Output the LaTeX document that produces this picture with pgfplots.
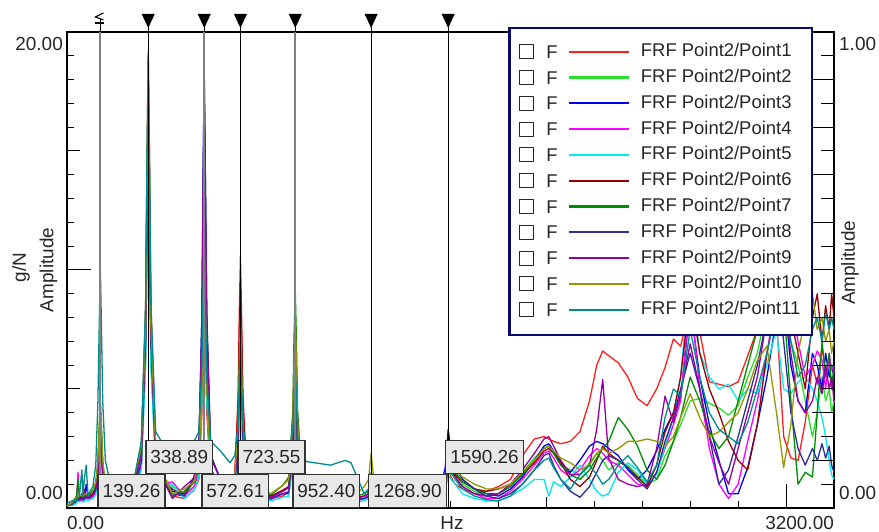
\documentclass[border=0pt]{standalone}
\usepackage{fontspec}
\setmainfont{Liberation Sans}
\usepackage{pgfplots}
\pgfplotsset{compat=1.18}
\usepackage{pgfplotstable}

\definecolor{c1}{RGB}{255,30,30}
\definecolor{c2}{RGB}{40,225,40}
\definecolor{c3}{RGB}{0,0,230}
\definecolor{c4}{RGB}{255,0,255}
\definecolor{c5}{RGB}{0,235,235}
\definecolor{c6}{RGB}{150,0,0}
\definecolor{c7}{RGB}{0,140,0}
\definecolor{c8}{RGB}{45,45,155}
\definecolor{c9}{RGB}{150,0,160}
\definecolor{c10}{RGB}{150,150,0}
\definecolor{c11}{RGB}{0,140,140}
\definecolor{navyb}{RGB}{10,10,110}
\definecolor{boxfill}{RGB}{232,232,232}
\definecolor{mgray}{RGB}{128,128,128}

\pgfplotstableread{
f s1 s2 s3 s4 s5 s6 s7 s8 s9 s10 s11
0 0.1 0.1 0.1 0.1 0.1 0.1 0.1 0.1 0.1 0.1 0.2
20 0.2 0.2 0.15 0.2 0.1 0.2 0.2 0.15 0.2 0.2 0.3
40 0.3 0.5 0.3 0.4 0.2 0.4 0.5 0.3 0.35 0.45 0.3
46 0.4 1.0 0.3 1.5 0.3 0.4 1.2 0.35 0.5 0.5 0.4
52 0.3 0.4 0.3 0.3 0.25 0.45 0.5 0.35 0.4 0.5 0.5
62 0.35 0.4 0.6 0.3 0.3 0.45 0.5 0.4 0.4 0.55 1.6
67 0.3 0.3 0.3 0.3 0.25 0.4 0.45 0.35 0.4 0.5 0.5
72 0.4 0.4 0.3 0.3 0.3 0.45 0.5 0.4 0.8 0.55 1.2
80 0.45 0.5 1.0 0.4 0.35 0.5 0.55 0.45 0.45 0.6 1.8
88 0.4 0.4 0.4 0.4 0.3 0.5 0.5 0.4 0.45 0.6 0.5
96 0.45 0.5 0.5 0.4 0.35 0.55 0.6 0.45 0.5 0.65 0.7
108 0.5 0.6 0.55 0.45 0.4 0.6 0.7 0.55 0.55 0.75 0.9
120 0.7 0.9 0.8 0.65 0.55 0.85 1.0 0.8 0.75 1.1 1.8
129 1.4 2.0 1.8 1.4 1.1 1.6 1.8 1.6 1.4 2.0 4.5
135 2.4 3.6 3.2 2.4 2.0 2.8 3.2 2.8 2.4 3.6 8.0
139.26 3.0 4.5 4.0 3.0 2.5 3.5 4.0 3.5 3.0 4.5 10.0
143 2.4 3.6 3.2 2.4 2.0 2.8 3.2 2.8 2.4 3.6 8.0
149 1.4 2.0 1.8 1.4 1.1 1.6 1.8 1.6 1.4 2.0 4.5
160 0.6 0.8 0.7 0.6 0.5 0.8 0.9 0.7 0.65 1.0 2.0
185 0.4 0.6 0.5 0.4 0.35 0.6 0.7 0.5 0.5 0.8 0.8
230 0.3 0.4 0.35 0.3 0.25 0.45 0.5 0.35 0.4 0.55 0.5
280 0.9 1.1 0.9 0.85 0.75 1.1 1.2 0.95 1.05 1.2 1.2
310 2.3 2.4 1.8 1.7 1.6 2.2 2.6 1.9 2.2 2.6 2.8
328 8.6 8.3 6.8 6.3 5.9 7.2 8.1 7.0 7.4 7.7 8.6
334 15.0 14.5 11.8 11.0 10.2 12.5 14.1 12.2 12.9 13.3 14.8
338.89 19.2 18.5 15.0 14.0 13.0 16.0 18.0 15.5 16.5 17.0 19.0
344 15.0 14.5 11.8 11.0 10.2 12.5 14.1 12.2 12.9 13.3 14.8
350 8.6 8.3 6.8 6.3 5.9 7.2 8.1 7.0 7.4 7.7 8.6
370 2.5 2.4 2.0 1.8 1.7 2.2 2.5 2.0 2.2 2.4 3.2
400 1.2 1.3 1.1 1.0 0.9 1.3 1.4 1.1 1.2 1.4 2.7
440 0.5 0.9 0.6 1.1 1.0 0.7 0.5 0.8 0.4 0.6 2.6
490 0.4 0.6 0.5 0.5 0.4 0.6 0.7 0.5 0.9 0.8 2.6
530 0.75 0.9 1.3 0.9 0.75 1.1 1.1 1.3 1.25 1.1 2.8
550 1.2 1.4 2.4 1.6 1.3 1.8 2.0 2.4 2.3 2.0 3.2
563 4.0 5.0 8.2 5.4 4.5 5.9 5.4 8.1 7.7 5.0 6.0
568 7.0 8.6 14.3 9.4 7.8 10.1 9.4 14.0 13.3 8.6 9.4
572.61 9.0 11.0 18.3 12.0 10.0 13.0 12.0 18.0 17.0 11.0 12.0
577 7.0 8.6 14.3 9.4 7.8 10.1 9.4 14.0 13.3 8.6 9.0
583 4.0 5.0 8.2 5.4 4.5 5.9 5.4 8.1 7.7 5.0 5.5
600 1.1 1.3 2.2 1.4 1.2 1.6 1.6 2.2 2.1 1.5 2.8
640 0.6 0.9 1.2 0.8 0.6 1.0 1.0 1.2 1.2 1.0 2.4
680 0.8 0.7 0.7 0.6 0.5 0.9 0.85 0.7 0.8 0.95 1.9
700 1.4 0.9 0.8 0.7 0.65 1.3 1.1 0.85 1.0 1.3 2.2
714 4.8 2.9 2.7 2.5 2.3 4.3 3.2 2.9 3.4 3.6 3.5
719 8.3 5.1 4.7 4.3 3.9 7.4 5.5 5.1 5.9 6.2 5.5
723.55 10.6 6.5 6.0 5.5 5.0 9.5 7.0 6.5 7.5 8.0 7.0
728 8.3 5.1 4.7 4.3 3.9 7.4 5.5 5.1 5.9 6.2 5.5
734 4.8 2.9 2.7 2.5 2.3 4.3 3.2 2.9 3.4 3.6 3.5
750 1.4 0.9 0.8 0.7 0.65 1.3 1.1 0.85 1.0 1.3 2.2
790 0.8 0.7 0.6 0.5 0.5 0.9 0.85 0.6 0.75 0.95 1.9
850 0.4 0.5 0.4 0.35 0.3 0.5 0.55 0.4 0.45 0.6 1.9
900 0.5 0.7 0.6 0.6 0.45 0.75 0.95 0.6 0.7 0.95 2.0
925 0.7 0.9 0.6 0.7 0.5 0.9 1.3 0.65 0.85 1.2 2.3
942 2.3 3.2 2.0 2.5 1.8 2.7 4.1 2.3 2.9 3.6 3.2
947 3.9 5.5 3.5 4.3 3.1 4.7 7.1 3.9 5.1 6.2 4.7
952.40 5.0 7.0 4.5 5.5 4.0 6.0 9.1 5.0 6.5 7.9 6.0
957 3.9 5.5 3.5 4.3 3.1 4.7 7.1 3.9 5.1 6.2 4.7
962 2.3 3.2 2.0 2.5 1.8 2.7 4.1 2.3 2.9 3.6 3.0
980 0.7 0.9 0.6 0.7 0.5 0.9 1.3 0.65 0.85 1.2 2.1
1000 0.5 0.8 0.5 0.6 0.45 0.8 1.0 0.6 0.8 1.0 1.95
1100 0.3 0.4 0.35 0.3 0.25 0.45 0.5 0.35 0.4 0.55 1.8
1160 0.3 0.4 0.35 0.3 0.25 0.45 0.5 0.35 0.4 0.55 2.0
1185 0.3 0.4 0.4 0.3 0.25 0.45 0.5 0.35 0.4 0.55 1.9
1210 0.3 0.4 0.35 0.3 0.25 0.45 0.5 0.35 0.4 0.6 1.3
1240 0.4 0.5 0.4 0.4 0.3 0.5 0.6 0.4 0.5 0.9 0.6
1258 0.5 0.6 0.45 0.5 0.4 0.6 0.7 0.5 0.6 1.2 0.8
1268.90 1.0 1.2 0.9 1.0 0.8 1.1 1.3 1.0 1.2 2.3 1.5
1280 0.5 0.6 0.45 0.5 0.4 0.6 0.7 0.5 0.6 1.2 0.8
1300 0.3 0.4 0.35 0.3 0.25 0.45 0.5 0.35 0.4 0.6 0.4
1350 0.25 0.35 0.3 0.3 0.25 0.4 0.45 0.3 0.35 0.55 0.35
1450 0.3 0.4 0.35 0.3 0.25 0.45 0.5 0.35 0.4 0.55 0.4
1520 0.4 0.5 0.5 0.4 0.3 0.55 0.6 0.45 0.5 0.65 0.5
1560 0.6 0.6 0.9 0.5 0.45 0.7 0.8 0.7 0.6 0.8 0.6
1578 0.9 0.8 1.7 0.8 0.7 0.9 1.0 1.3 0.9 1.0 1.0
1590.26 1.8 1.5 3.3 1.6 1.4 1.7 2.0 2.5 1.8 2.0 1.9
1602 1.3 1.4 2.4 1.5 1.2 1.5 1.7 2.0 1.5 1.8 1.5
1620 1.0 1.4 1.8 1.3 1.0 1.4 1.5 1.7 1.3 1.6 1.2
1650 0.8 1.0 1.2 0.9 0.6 1.1 1.1 1.2 0.9 1.3 0.8
1700 0.6 0.7 0.8 0.6 0.4 0.8 0.8 0.8 0.6 1.0 0.5
1750 0.7 0.5 0.6 0.4 0.3 0.7 0.6 0.5 0.5 0.8 0.35
1800 0.9 0.6 0.5 0.4 0.3 0.8 0.6 0.4 0.6 0.8 0.3
1850 1.2 0.9 0.8 0.7 0.5 1.0 0.9 0.6 1.0 1.0 0.5
1900 2.2 1.5 1.3 1.2 0.8 1.4 1.4 1.0 1.6 1.5 1.0
1950 2.9 2.1 2.0 1.8 1.2 1.9 2.0 1.6 2.3 2.0 1.6
1990 3.0 2.5 2.6 2.3 1.2 2.4 2.5 2.2 2.9 2.5 2.0
2010 2.9 2.6 2.7 2.4 0.5 2.5 2.6 2.3 3.0 2.6 2.1
2030 2.8 2.3 2.4 2.1 1.1 2.3 2.3 1.8 2.6 2.4 1.7
2060 2.7 1.8 1.9 1.6 0.9 1.9 1.8 1.2 2.0 2.1 1.2
2100 2.8 1.6 1.5 1.3 1.3 1.2 1.4 0.7 1.4 1.9 0.8
2140 3.2 1.4 2.0 1.6 1.8 0.9 1.2 0.45 1.4 1.6 1.4
2180 4.5 1.9 2.6 2.2 1.2 1.3 1.6 0.9 1.8 1.8 1.8
2210 6.0 2.3 2.8 2.5 0.7 2.0 2.1 1.5 3.3 2.3 1.4
2235 6.6 2.0 2.7 2.3 0.5 2.6 2.5 2.0 5.4 2.5 1.0
2260 6.4 1.6 2.5 2.0 0.6 2.3 2.8 2.2 2.1 2.3 1.2
2300 6.1 1.9 2.2 1.8 1.5 2.0 3.8 2.0 1.2 2.5 1.8
2340 5.5 1.8 1.6 1.4 1.9 1.7 3.3 1.7 1.0 2.8 2.2
2380 4.6 1.4 1.2 1.0 1.6 1.3 2.6 1.2 0.9 2.8 1.7
2420 4.3 1.0 1.6 0.9 1.0 0.9 1.6 0.8 1.0 2.9 1.1
2460 5.0 1.2 2.4 1.5 1.4 1.8 1.2 1.5 2.5 2.8 1.8
2495 5.9 2.2 3.3 2.5 2.6 3.2 1.8 2.8 4.7 2.6 3.8
2530 7.1 2.8 4.0 3.5 3.8 4.0 2.8 3.8 3.6 3.0 5.0
2560 6.8 3.5 4.6 4.5 5.5 5.5 3.8 5.0 4.8 3.8 4.7
2600 8.5 4.5 8.5 9.0 10.0 9.0 5.5 6.5 6.9 4.8 7.5
2640 7.4 4.6 5.5 5.0 6.5 6.5 4.5 5.0 5.0 3.8 5.5
2680 5.3 4.4 3.5 2.5 5.5 5.0 3.2 3.0 3.0 3.0 4.0
2720 5.2 4.2 2.0 1.0 5.0 4.0 2.5 1.0 1.9 3.2 3.3
2760 5.1 3.9 0.6 0.4 5.2 2.8 3.0 1.6 1.0 3.6 3.0
2800 5.3 4.3 0.6 1.0 4.5 2.0 4.5 3.0 2.5 4.0 2.7
2840 6.4 5.5 1.7 2.8 5.0 1.6 6.0 4.5 4.0 5.0 3.6
2880 7.5 6.5 3.5 4.5 4.8 3.5 7.5 6.0 5.5 6.2 5.0
2920 9.0 8.5 5.5 6.5 6.0 6.5 9.5 8.0 8.0 6.8 6.5
2960 8.0 9.5 8.0 9.0 7.5 8.5 10.0 9.5 10.0 4.0 8.5
2990 3.0 8.0 9.0 10.0 5.0 9.5 8.5 7.0 9.0 1.7 9.5
3020 2.1 7.0 6.0 8.5 4.8 8.0 4.5 4.0 6.5 3.5 7.0
3050 2.0 6.0 4.5 7.0 5.3 6.5 1.0 2.5 4.5 6.5 5.5
3080 3.6 4.5 4.0 5.5 5.5 5.0 1.5 1.8 4.0 8.0 6.0
3110 6.0 3.0 6.5 6.0 5.0 8.0 1.3 2.5 4.5 9.0 7.5
3130 5.2 4.0 6.0 6.6 4.5 9.0 4.0 2.0 5.5 7.5 8.0
3150 6.8 5.5 5.0 6.2 3.8 7.0 7.0 2.7 4.8 8.0 7.0
3165 5.6 4.5 6.5 5.0 3.0 8.5 5.5 2.1 6.0 7.0 8.2
3180 6.2 5.0 5.5 6.5 2.0 7.5 6.5 2.6 5.0 7.5 7.5
3190 5.0 4.0 6.0 5.8 1.4 9.0 5.0 1.8 5.5 6.5 8.0
3200 5.8 4.5 5.5 6.0 1.2 8.0 6.0 1.5 4.5 7.0 7.5
}\frf

\tikzset{
  vbox/.style={draw=black!80, line width=1.3bp, fill=boxfill, text=black!85,
    minimum height=33bp, inner xsep=4.5bp, inner ysep=0pt, anchor=south west,
    xshift=-3bp, font=\fontsize{19}{21}\selectfont},
  lab/.style={inner sep=0pt, text=black!85, font=\fontsize{19}{21}\selectfont}
}

\begin{document}
\begin{tikzpicture}[x=1bp,y=1bp]
\useasboundingbox (0,0) rectangle (879,532);
\begin{axis}[
  at={(67bp,24bp)}, anchor=south west,
  scale only axis, width=767bp, height=476bp,
  xmin=0, xmax=3200, ymin=0, ymax=20,
  clip=false,
  axis line style={black, line width=1.3bp},
  xtick={0,200,...,3200}, ytick={0,1,...,20},
  xticklabel=\empty, yticklabel=\empty,
  xtick pos=bottom, ytick pos=left,
  tick align=inside,
  major tick length=7bp,
  major tick style={black, line width=1bp},
  every axis plot/.append style={line width=1.3bp, no markers, line join=round},
  legend image code/.code={%
    \draw[black!85, line width=1.1bp, fill=white] (0bp,-7bp) rectangle (14bp,7bp);
    \node[black!85, anchor=base west, inner sep=0pt, font=\fontsize{18.5}{20}\selectfont] at (26bp,-6.6bp) {F};
    \draw[#1, line width=2.2bp] (49bp,0bp) -- (109bp,0bp);
  },
  legend style={at={(0.575,1.0105)}, anchor=north west, draw=navyb, line width=2.5bp,
    fill=white, inner xsep=10bp, inner ysep=15bp, row sep=7.2bp, column sep=11bp,
    font=\fontsize{18.5}{20}\selectfont, text=black!85,
    nodes={inner sep=0pt, text height=13.5bp, text depth=3.5bp}},
  legend cell align=left,
]
\addplot[c1] table[x=f,y=s1]{\frf}; \addlegendentry{FRF Point2/Point1}
\addplot[c2] table[x=f,y=s2]{\frf}; \addlegendentry{FRF Point2/Point2}
\addplot[c3] table[x=f,y=s3]{\frf}; \addlegendentry{FRF Point2/Point3}
\addplot[c4] table[x=f,y=s4]{\frf}; \addlegendentry{FRF Point2/Point4}
\addplot[c5] table[x=f,y=s5]{\frf}; \addlegendentry{FRF Point2/Point5}
\addplot[c6] table[x=f,y=s6]{\frf}; \addlegendentry{FRF Point2/Point6}
\addplot[c7] table[x=f,y=s7]{\frf}; \addlegendentry{FRF Point2/Point7}
\addplot[c8] table[x=f,y=s8]{\frf}; \addlegendentry{FRF Point2/Point8}
\addplot[c9] table[x=f,y=s9]{\frf}; \addlegendentry{FRF Point2/Point9}
\addplot[c10] table[x=f,y=s10]{\frf}; \addlegendentry{FRF Point2/Point10}
\addplot[c11] table[x=f,y=s11]{\frf}; \addlegendentry{FRF Point2/Point11}

% longer axis ticks
\draw[black, line width=1bp] (axis cs:0,5) -- ++(13bp,0);
\draw[black, line width=1bp] (axis cs:0,15) -- ++(13bp,0);
\draw[black, line width=1bp] (axis cs:0,10) -- ++(24bp,0);
\draw[black, line width=1bp] (axis cs:1000,0) -- ++(0,11bp);
\draw[black, line width=1bp] (axis cs:2000,0) -- ++(0,11bp);
\draw[black, line width=1bp] (axis cs:3000,0) -- ++(0,24bp);
\pgfplotsinvokeforeach{1,3,5,7,9,11,13,15,17,19}{\draw[black, line width=1bp] (axis cs:3200,#1) -- ++(-13bp,0);}
\pgfplotsinvokeforeach{2,4,6,8,10,12,14,16,18}{\draw[black, line width=1bp] (axis cs:3200,#1) -- ++(-22bp,0);}

% cursor lines
\pgfplotsinvokeforeach{139.26,572.61,952.40}{\draw[mgray, line width=2bp] (axis cs:#1,0) -- (axis cs:#1,20);}
\pgfplotsinvokeforeach{338.89,723.55,1268.90,1590.26}{\draw[black, line width=1.2bp] (axis cs:#1,0) -- (axis cs:#1,20);}
\pgfplotsinvokeforeach{338.89,572.61,723.55,952.40,1268.90,1590.26}{%
  \draw[black, line width=1.2bp] (axis cs:#1,20) -- ++(0,5bp);
  \fill[black] (axis cs:#1,20) ++(0,4bp) -- ++(-6.5bp,14bp) -- ++(13bp,0) -- cycle;}
\draw[black, line width=1.1bp] (axis cs:139.26,20) -- ++(0,13bp);
\draw[black, line width=1.1bp] (axis cs:139.26,20) ++(3bp,19bp) -- ++(-8bp,-4bp) -- ++(8bp,-3bp);
\draw[black, line width=1.1bp] (axis cs:139.26,20) ++(-5bp,9bp) -- ++(9bp,0);

% cursor value boxes
\node[vbox] at (axis cs:139.26,0) {139.26};
\node[vbox, yshift=34bp] at (axis cs:338.89,0) {338.89};
\node[vbox] at (axis cs:572.61,0) {572.61};
\node[vbox, yshift=34bp] at (axis cs:723.55,0) {723.55};
\node[vbox] at (axis cs:952.40,0) {952.40};
\node[vbox] at (axis cs:1268.90,0) {1268.90};
\node[vbox, yshift=34bp] at (axis cs:1590.26,0) {1590.26};

% axis labels
\node[lab, anchor=north west, yshift=-8bp] at (axis cs:0,0) {0.00};
\node[lab, anchor=north, yshift=-8bp] at (axis cs:1606,0) {Hz};
\node[lab, anchor=north east, yshift=-8bp] at (axis cs:3200,0) {3200.00};
\node[lab, anchor=north east, xshift=-4bp, yshift=-5bp] at (axis cs:0,20) {20.00};
\node[lab, anchor=base east, xshift=-4bp, yshift=8bp] at (axis cs:0,0) {0.00};
\node[lab, anchor=north west, xshift=5bp, yshift=-5bp] at (axis cs:3200,20) {1.00};
\node[lab, anchor=base west, xshift=5bp, yshift=8bp] at (axis cs:3200,0) {0.00};
\node[lab, rotate=90] at ([xshift=-46bp]axis cs:0,10.1) {g/N};
\node[lab, rotate=90] at ([xshift=-18.5bp]axis cs:0,10.0) {Amplitude};
\node[lab, rotate=90] at ([xshift=16bp]axis cs:3200,10.3) {Amplitude};
\end{axis}
\end{tikzpicture}
\end{document}
